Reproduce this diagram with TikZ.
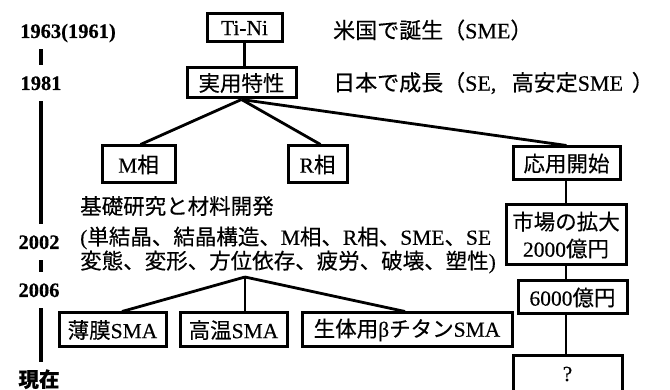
\documentclass[tikz,border=0pt]{standalone}
\usepackage{fontspec}
\setmainfont{Liberation Serif}[FakeBold=0.4]
\newfontfamily\jp{Noto Sans CJK JP}[FakeBold=0.35]
\newcommand{\J}[1]{{\jp #1}}
\begin{document}
\begin{tikzpicture}[x=1pt,y=-1pt,
  box/.style={draw, line width=3pt, inner sep=0pt, font=\fontsize{21.5}{27}\selectfont},
  conn/.style={line width=2.8pt},
  tl/.style={line width=3.4pt, shorten <=11pt, shorten >=11pt},
  year/.style={inner sep=0pt, text height=14pt, text depth=0pt, font=\fontsize{20.5}{24}\selectfont\bfseries},
  txt/.style={anchor=west, inner sep=0pt, font=\fontsize{21.5}{24}\selectfont}]
\useasboundingbox (0,0) rectangle (670,390);
% boxes
\node[box,minimum width=75,minimum height=28] (tini) at (244.5,28) {Ti-Ni};
\node[box,minimum width=109,minimum height=30] (jitsu) at (241.5,83) {\J{実用特性}};
\node[box,minimum width=73,minimum height=37] (mphase) at (138.5,164.5) {M\J{相}};
\node[box,minimum width=59,minimum height=37] (rphase) at (317.5,164.5) {R\J{相}};
\node[box,minimum width=107,minimum height=33] (ouyou) at (566.5,163.5) {\J{応用開始}};
\node[box,minimum width=120,minimum height=60,align=center] (market) at (566,235) {\J{市場の拡大}\\2000\J{億円}};
\node[box,minimum width=109,minimum height=33] (six) at (572.5,297.5) {6000\J{億円}};
\node[box,minimum width=109,minimum height=36] (q) at (567.5,374) {?};
\node[box,minimum width=107,minimum height=34] (film) at (112.5,330) {\J{薄膜}SMA};
\node[box,minimum width=107,minimum height=34] (hot) at (233.5,330) {\J{高温}SMA};
\node[box,minimum width=210,minimum height=34] (bio) at (407,330) {\J{生体用}β\J{チタン}SMA};
% texts
\node[txt, font=\fontsize{22}{24}\selectfont] (usa) at (333,30) {\J{米国で誕生（}SME\J{）}};
\node[txt, font=\fontsize{22}{24}\selectfont] (japan) at (333,83) {\J{日本で成長（}SE,\hspace{0.7em}\J{高安定}SME\hspace{0.4em}\J{）}};
\node[txt] (basic) at (80,206) {\J{基礎研究と材料開発}};
\node[txt] (line2) at (80,238) {(\J{単結晶、結晶構造、}M\J{相、}R\J{相、}SME\J{、}SE};
\node[txt] (line3) at (80,262) {\J{変態、変形、方位依存、疲労、破壊、塑性})};
% years
\node[year] (y63) at (68,31) {1963(1961)};
\node[year] (y81) at (41,83) {1981};
\node[year] (y02) at (39,242) {2002};
\node[year] (y06) at (39,290) {2006};
\node[year] (ynow) at (39,380) {\J{現在}};
% timeline
\draw[tl] (y63.south -| y81) -- (y81.north);
\draw[tl] (y81.south) -- (y81.south |- y02.north);
\draw[tl] (y81.south |- y02.south) -- (y81.south |- y06.north);
\draw[tl] (y81.south |- y06.south) -- (y81.south |- ynow.north);
% connectors
\draw[conn] (tini.south) -- (tini.south |- jitsu.north);
\draw[conn] (jitsu.south) -- ([xshift=2pt]mphase.north);
\draw[conn] (jitsu.south) -- ([xshift=3pt]rphase.north);
\draw[conn] (jitsu.south) -- (ouyou.north);
\draw[conn] (market.north |- ouyou.south) -- (market.north);
\draw[conn] (market.south) -- (market.south |- six.north);
\draw[conn] (market.south |- six.south) -- (market.south |- q.north);
\coordinate (fan) at (245,277);
\draw[conn] (fan) -- ([xshift=9.5pt]film.north);
\draw[conn] (fan) -- (fan |- hot.north);
\draw[conn] (fan) -- ([xshift=-2pt]bio.north);
\end{tikzpicture}
\end{document}
